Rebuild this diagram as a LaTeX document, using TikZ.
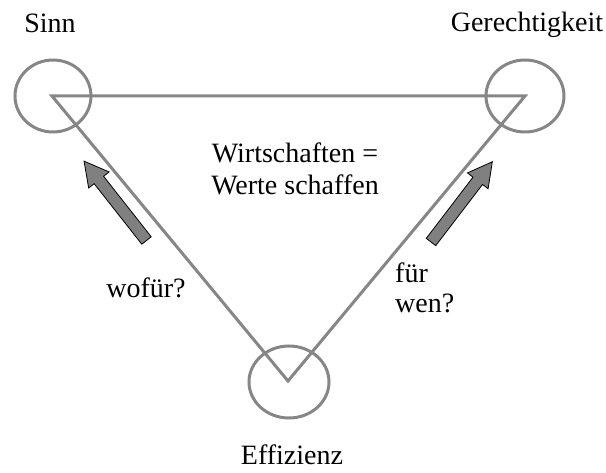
\documentclass[tikz,border=0pt]{standalone}
\usepackage{fontspec}
\setmainfont{Liberation Serif}
\begin{document}
\begin{tikzpicture}[x=1pt,y=1pt,
  edge/.style={draw=gray!95, line width=3pt, line join=miter},
  ring/.style={draw=gray!95, line width=3pt},
  lbl/.style={font=\fontsize{28}{31}\selectfont, inner sep=0pt, anchor=base},
  bigarrow/.style={fill=gray, draw=black, line width=0.8pt, line join=miter}]
\useasboundingbox (0,0) rectangle (606,472);
\coordinate (A) at (52,376);
\coordinate (B) at (525,376);
\coordinate (C) at (288,91);
\draw[ring] (53,376) ellipse [x radius=38, y radius=36];
\draw[ring] (525,376) ellipse [x radius=39, y radius=36];
\draw[ring] (289,90) ellipse [x radius=40, y radius=36];
\draw[edge] (A) -- (B) -- (C) -- cycle;
\node[lbl] (sinn) at (50,439) {Sinn};
\node[lbl] (ger) at (527,440) {Gerechtigkeit};
\node[lbl] (eff) at (292,8) {Effizienz};
\node[lbl] (w1) at (295,309) {Wirtschaften =};
\node[lbl] (w2) at (295,277) {Werte schaffen};
\node[lbl] (wofuer) at (146,174) {wofür?};
\node[lbl, anchor=base west] (fuer) at (395,189) {für};
\node[lbl, anchor=base west] (wen) at (395,159) {wen?};
\begin{scope}[shift={(146.5,231.5)}, rotate=128.2]
\draw[bigarrow] (0,-6) -- (77,-6) -- (77,-13) -- (101,0) -- (77,13) -- (77,6) -- (0,6) -- cycle;
\end{scope}
\begin{scope}[shift={(431,230)}, rotate=52.6]
\draw[bigarrow] (0,-6) -- (77,-6) -- (77,-13) -- (101,0) -- (77,13) -- (77,6) -- (0,6) -- cycle;
\end{scope}
\end{tikzpicture}
\end{document}
